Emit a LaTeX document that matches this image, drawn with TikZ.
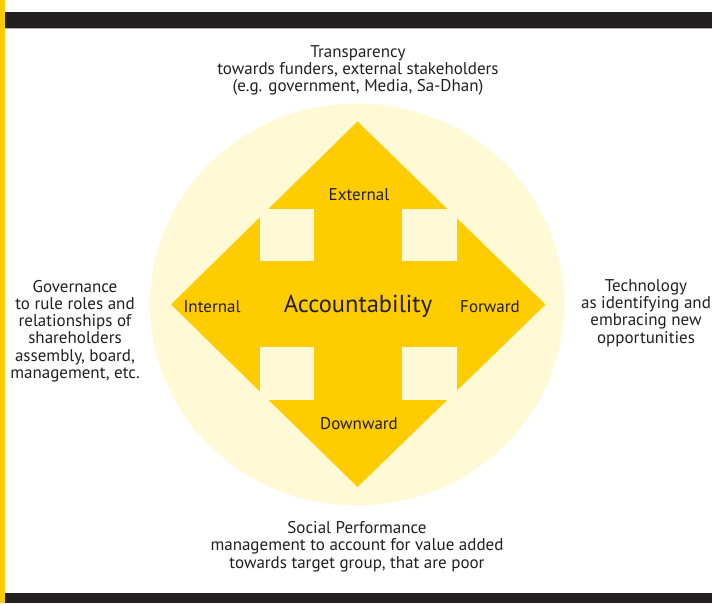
\documentclass[tikz,border=0pt]{standalone}
\usepackage{fontspec}
\setmainfont{PT Sans}
\definecolor{gold}{HTML}{FFCC00}
\definecolor{pale}{HTML}{FFF9D6}
\definecolor{ink}{HTML}{231F20}
\definecolor{rule}{HTML}{B4B4B4}
\begin{document}
\begin{tikzpicture}[x=1pt,y=-1pt,
  txt/.style={align=center, font=\fontsize{17}{17.3}\selectfont, text=ink, inner sep=0pt},
  lab/.style={font=\fontsize{17}{18}\selectfont, text=ink, inner sep=0pt},
  notch/.style={fill=pale}]
\useasboundingbox (0,0) rectangle (712,603);
\fill[white] (0,0) rectangle (712,603);
% frame
\fill[gold] (0,0) rectangle (4.5,603);
\fill[ink] (4.5,11.5) rectangle (712,27.7);
\fill[rule] (4.5,27.7) rectangle (712,29);
\fill[ink] (4.5,593) rectangle (712,603);
% circle
\fill[pale] (357,304.5) ellipse [x radius=207, y radius=201];
% diamond of four arrows
\coordinate (c) at (357.5,304.5);
\fill[gold] (357.5,121.5) -- (545.5,304.5) -- (357.5,487) -- (171,304.5) -- cycle;
\fill[notch] (259.5,208.5) rectangle (313.5,260.5);
\fill[notch] (401.5,208.5) rectangle (457,260.5);
\fill[notch] (259.5,346.5) rectangle (313.5,399.5);
\fill[notch] (401.5,346.5) rectangle (457,399.5);
% labels inside
\node[lab] (ext) at (359,195) {External};
\node[lab] (int) at (212,307) {Internal};
\node[lab] (fwd) at (490,307) {Forward};
\node[lab] (dwn) at (359,424) {Downward};
\node[font=\fontsize{24.5}{26}\selectfont, text=ink, inner sep=0pt] (acc) at (358,306) {Accountability};
% outer texts
\node[txt] (top) at (358,70.5) {Transparency\\towards funders, external stakeholders\\(e.g. government, Media, Sa-Dhan)};
\node[txt] (left) at (75,331) {Governance\\to rule roles and\\relationships of\\shareholders\\assembly, board,\\management, etc.};
\node[txt] (right) at (646,313) {Technology\\as identifying and\\embracing new\\opportunities};
\node[txt] (bottom) at (357,546.5) {Social Performance\\management to account for value added\\towards target group, that are poor};
\end{tikzpicture}
\end{document}
